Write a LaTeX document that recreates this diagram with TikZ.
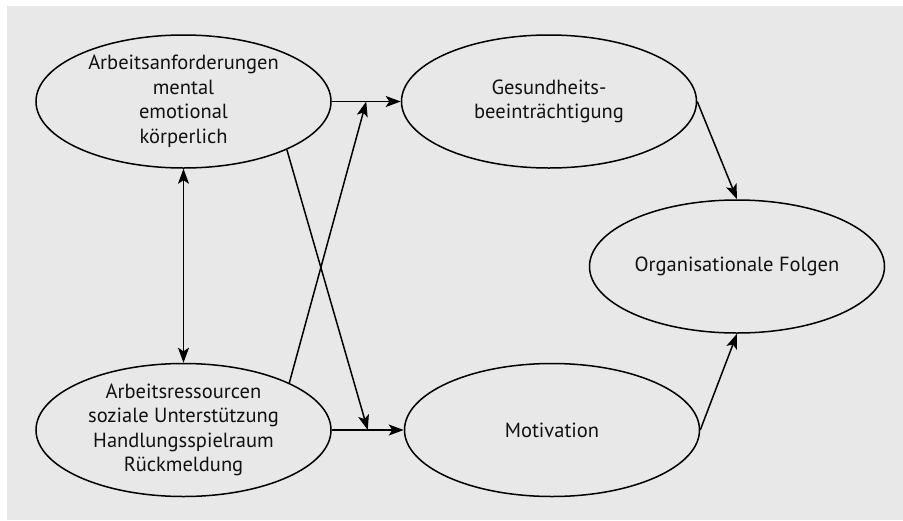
\documentclass[tikz,border=0pt]{standalone}
\usepackage{fontspec}
\setmainfont{PT Sans}
\usepackage{tikz}
\usetikzlibrary{arrows.meta, positioning, shapes.geometric, calc}
\usepackage{xcolor}
\definecolor{bggray}{HTML}{E8E8E8}
\definecolor{txtgray}{HTML}{111111}

\begin{document}
\begin{tikzpicture}[
    x=1pt, y=1pt,
    node distance=194pt and 69pt,
    oval/.style={ellipse, draw, line width=1.5pt, minimum width=295pt, minimum height=133pt,
      inner sep=0pt, align=center, text=txtgray, font=\fontsize{20.5}{24.5}\selectfont},
    link/.style={line width=1.5pt, -{Stealth[length=15pt, width=11pt, inset=3.5pt]}},
    >={Stealth[length=15pt, width=11pt, inset=3.5pt]}
  ]

% Background
\fill[white] (0,0) rectangle (903,-520);
\fill[bggray] (7,-6) rectangle (903,-520);
\useasboundingbox (0,0) rectangle (903,-520);

% Nodes
\node[oval] (demands) at (183.5,-101.5) {Arbeitsanforderungen\\mental\\emotional\\körperlich};
\node[oval, below=of demands] (resources) {Arbeitsressourcen\\soziale Unterstützung\\Handlungsspielraum\\Rückmeldung};
\node[oval, right=of demands] (health) {Gesundheits-\\beeinträchtigung};
\node[oval, right=72pt of resources] (motiv) {Motivation};
\node[oval] (outcome) at (737,-266.5) {Organisationale Folgen};

\coordinate (hjoin) at ($(demands.east)!0.5!(health.west)$);
\coordinate (mjoin) at ($(resources.east)!0.5!(motiv.west)$);

% Arrows
\draw[link] (demands) -- (health);
\draw[link] (resources) -- (motiv);
\draw[link, <->] (demands) -- (resources);
\draw[link] (demands.-25) -- (mjoin);
\draw[link] (resources.24) -- (hjoin);
\draw[link] (health.east) -- (outcome.north);
\draw[link] (motiv.east) -- (outcome.south);

\end{tikzpicture}
\end{document}
